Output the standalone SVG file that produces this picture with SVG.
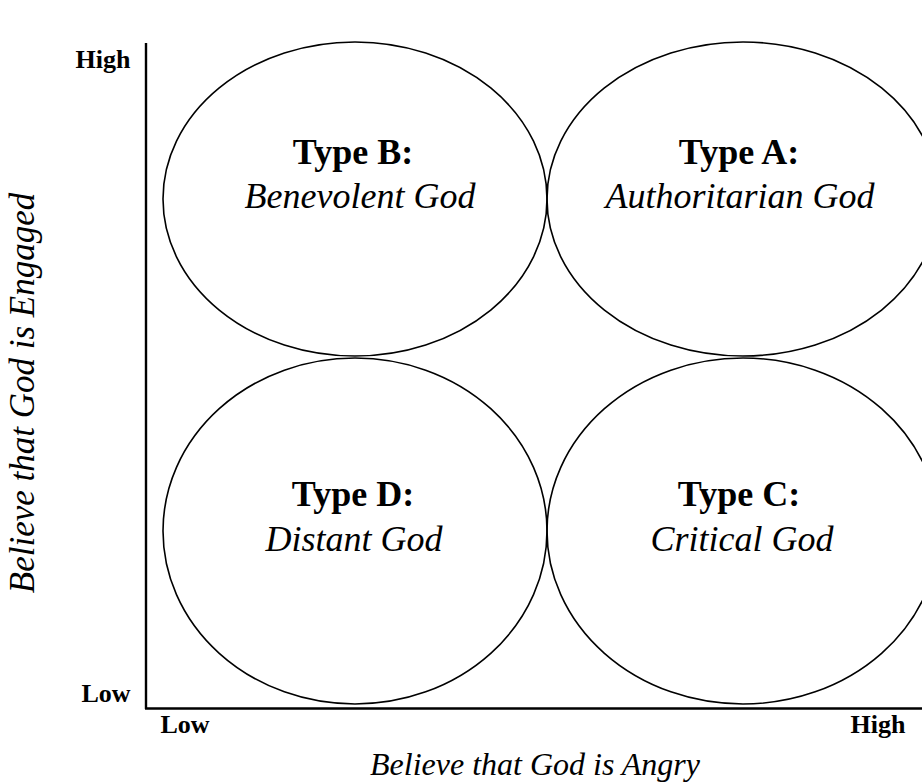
<svg xmlns="http://www.w3.org/2000/svg" width="922" height="782" viewBox="0 0 922 782">
<style>
.bg{fill:#fff}
.ell{fill:none;stroke:#000;stroke-width:1.6}
.ax{stroke:#000;stroke-width:2.4;fill:none}
.t{font-family:"Liberation Serif","Times New Roman",serif;fill:#000;text-anchor:middle}
.h{font-size:36px;font-weight:bold}
.s{font-size:36px;font-style:italic}
.lab{font-size:26px;font-weight:bold}
.axl{font-size:32px;font-style:italic}
.axv{font-size:35px;font-style:italic}
</style>
<rect class="bg" x="0" y="0" width="922" height="782"/>
<g id="axes">
<line class="ax" x1="146" y1="43" x2="146" y2="709"/>
<line class="ax" x1="145" y1="708.5" x2="922" y2="708.5"/>
</g>
<g id="typeB">
<ellipse class="ell" cx="355" cy="199" rx="192" ry="157"/>
<text class="t h" x="353" y="164">Type B:</text>
<text class="t s" x="360" y="208">Benevolent God</text>
</g>
<g id="typeA">
<ellipse class="ell" cx="743" cy="199" rx="196" ry="157"/>
<text class="t h" x="739" y="164">Type A:</text>
<text class="t s" x="740" y="208">Authoritarian God</text>
</g>
<g id="typeD">
<ellipse class="ell" cx="355" cy="531" rx="192" ry="173"/>
<text class="t h" x="353" y="506">Type D:</text>
<text class="t s" x="354" y="551">Distant God</text>
</g>
<g id="typeC">
<ellipse class="ell" cx="743" cy="531" rx="196" ry="173"/>
<text class="t h" x="739" y="506">Type C:</text>
<text class="t s" x="742" y="551">Critical God</text>
</g>
<g id="labels">
<text class="t lab" x="103" y="68">High</text>
<text class="t lab" x="106" y="702">Low</text>
<text class="t lab" x="185" y="733">Low</text>
<text class="t lab" x="878" y="733">High</text>
<text class="t axl" x="535" y="775">Believe that God is Angry</text>
<text class="t axv" transform="translate(34,393) rotate(-90)" x="0" y="0">Believe that God is Engaged</text>
</g>
</svg>
